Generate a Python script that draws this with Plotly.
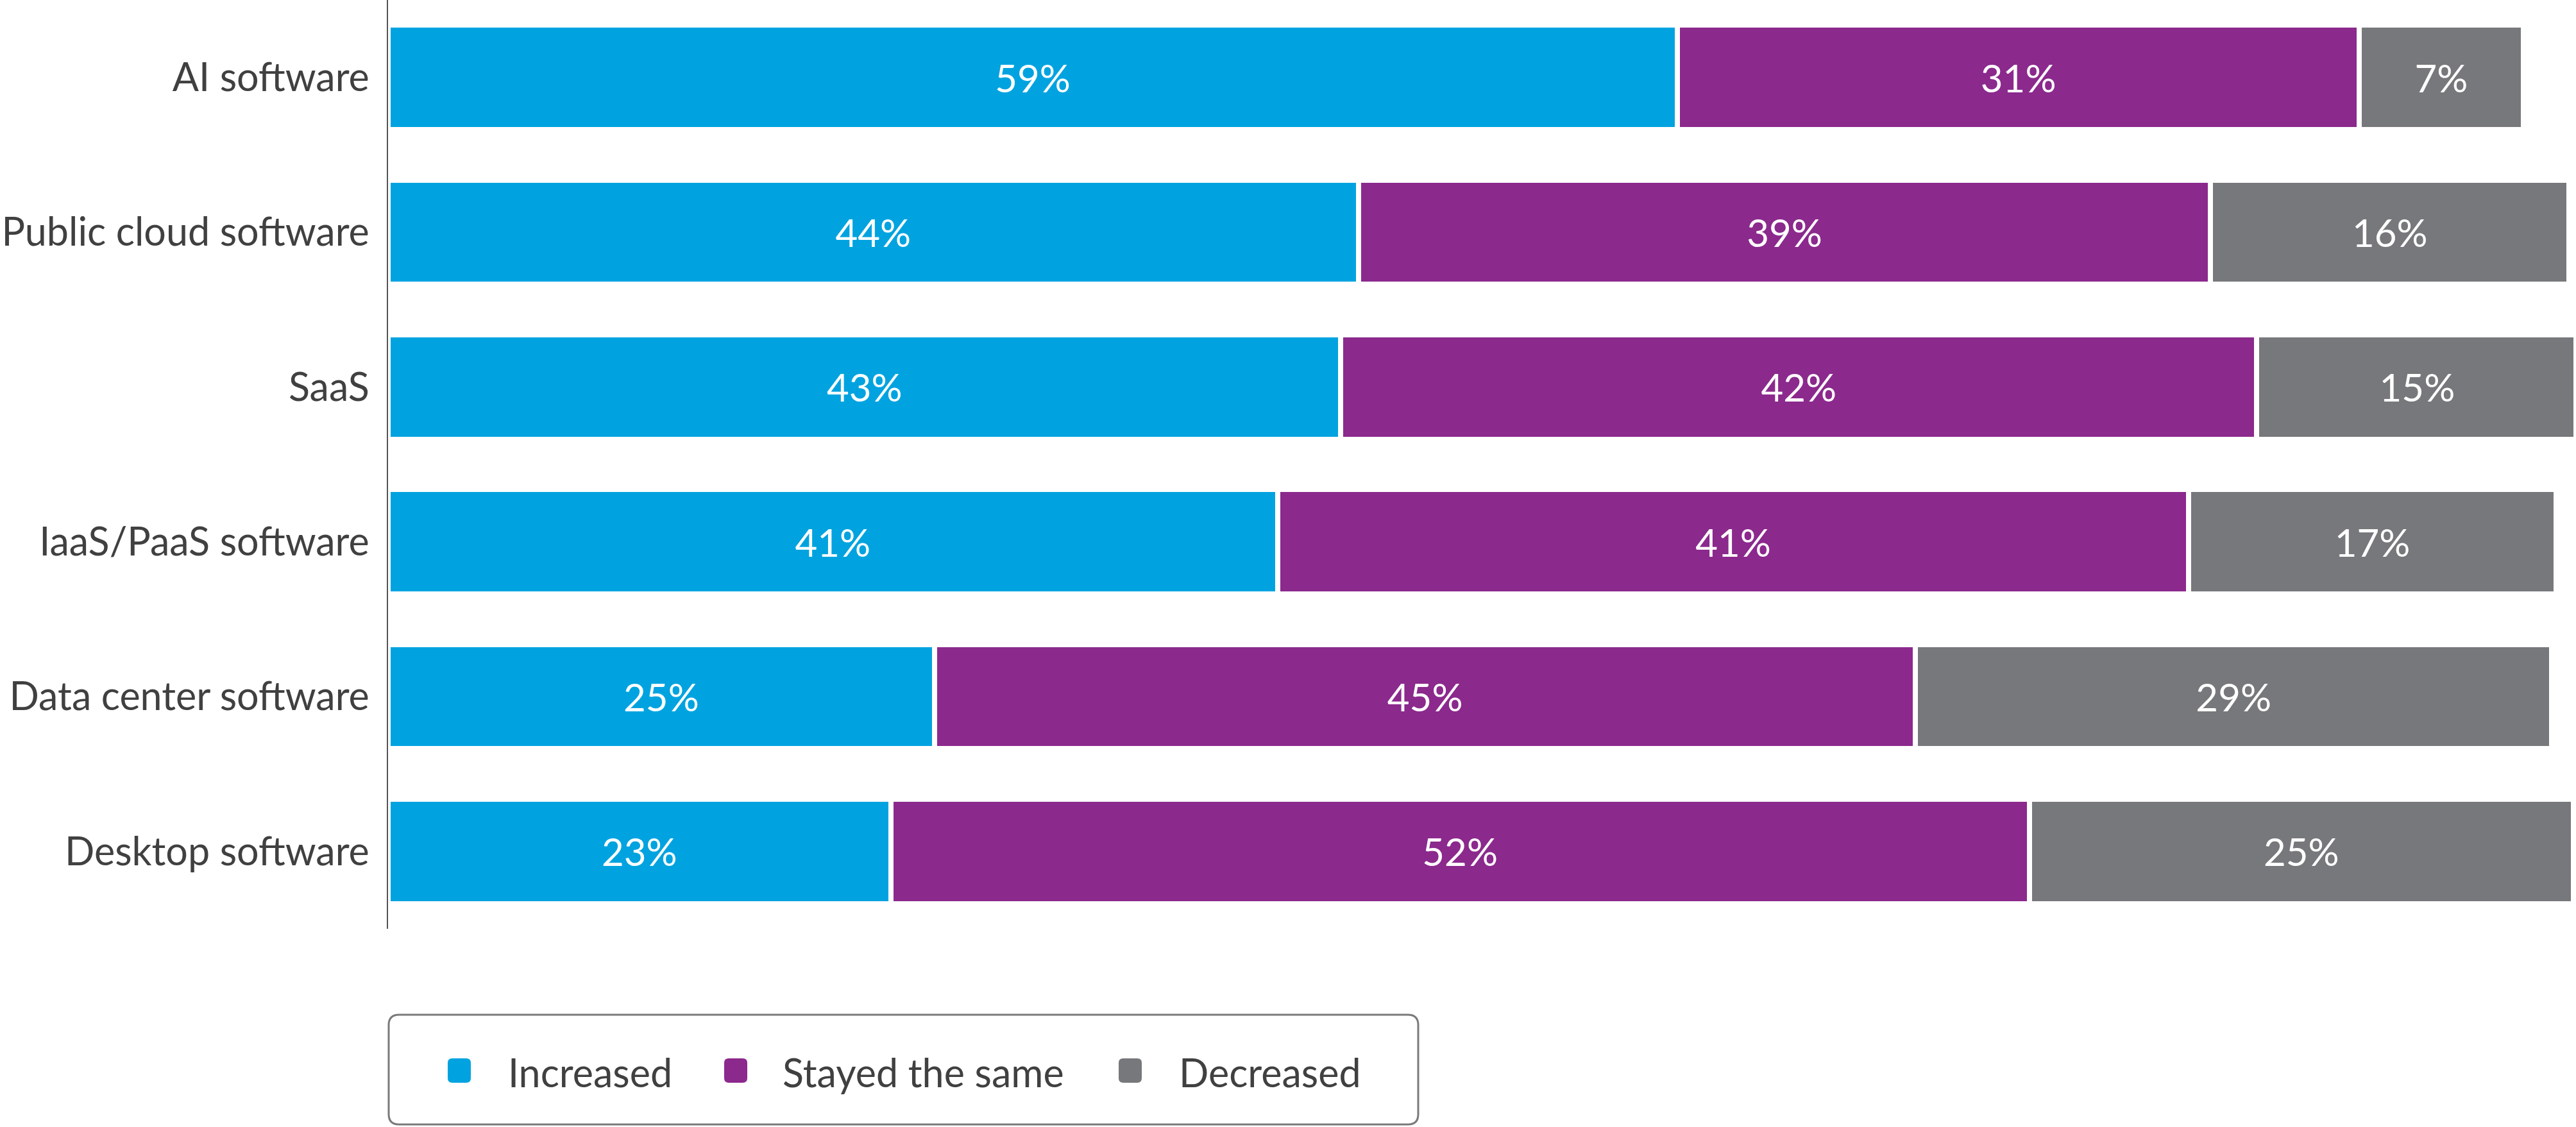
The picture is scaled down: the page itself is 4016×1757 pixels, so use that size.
import plotly.graph_objects as go

# ---------------- data ----------------
categories = ["AI software", "Public cloud software", "SaaS", "IaaS/PaaS software",
              "Data center software", "Desktop software"]
series_names = ["Increased", "Stayed the same", "Decreased"]
series_colors = ["#00A3E0", "#8B298D", "#77787B"]

increased = [59.0, 44.4, 43.6, 40.7, 25.0, 23.0]
stayed_same = [31.2, 39.0, 41.9, 41.7, 44.9, 52.1]
decreased = [7.5, 16.4, 14.7, 16.8, 29.1, 24.9]

increased_labels = ["59%", "44%", "43%", "41%", "25%", "23%"]
stayed_same_labels = ["31%", "39%", "42%", "41%", "45%", "52%"]
decreased_labels = ["7%", "16%", "15%", "17%", "29%", "25%"]

series_values = [increased, stayed_same, decreased]
series_labels = [increased_labels, stayed_same_labels, decreased_labels]

# ---------------- layout geometry (pixels) ----------------
W, H = 4016, 1757
L, R, T = 605, 4, 0
PH = 1448
B = H - T - PH
PW = W - L - R
FONT = "Lato"
TXT = "#404040"


def fx(x):
    return (x - L) / PW


def fy(y):
    return (T + PH - y) / PH


def rrect(x0, y0, x1, y1, r):
    # rounded rectangle (pixel coords, y downward) -> path in paper coords
    pts = [
        ("M", (x0 + r, y0)), ("L", (x1 - r, y0)), ("Q", (x1, y0), (x1, y0 + r)),
        ("L", (x1, y1 - r)), ("Q", (x1, y1), (x1 - r, y1)),
        ("L", (x0 + r, y1)), ("Q", (x0, y1), (x0, y1 - r)),
        ("L", (x0, y0 + r)), ("Q", (x0, y0), (x0 + r, y0)),
    ]
    out = []
    for p in pts:
        cmd = p[0]
        coords = " ".join(f"{fx(a):.6f},{fy(b):.6f}" for a, b in p[1:])
        out.append(f"{cmd}{coords}")
    return " ".join(out) + " Z"


fig = go.Figure()
for name, color, vals, labs in zip(series_names, series_colors, series_values, series_labels):
    fig.add_trace(go.Bar(
        y=categories, x=vals, name=name, orientation="h",
        marker=dict(color=color, line=dict(color="white", width=8)),
        text=labs, textposition="inside", insidetextanchor="middle",
        textangle=0, constraintext="none",
        textfont=dict(family=FONT, size=60, color="white"),
        showlegend=False, hoverinfo="skip",
    ))

shapes = []
annotations = []
# legend box
shapes.append(dict(type="path", xref="paper", yref="paper",
                   path=rrect(606, 1582, 2211, 1753, 16),
                   line=dict(color="#7A7A7A", width=3), fillcolor="rgba(0,0,0,0)"))
legend_marker_x = [698, 1129, 1744]
legend_text_x = [790, 1218, 1836]
for name, color, mx, tx in zip(series_names, series_colors, legend_marker_x, legend_text_x):
    shapes.append(dict(type="path", xref="paper", yref="paper",
                       path=rrect(mx, 1650, mx + 36, 1688, 7),
                       line=dict(width=0), fillcolor=color))
    annotations.append(dict(text=name, xref="paper", yref="paper",
                            x=fx(tx), y=fy(1671), xanchor="left", yanchor="middle",
                            showarrow=False, font=dict(family=FONT, size=61, color=TXT)))

fig.update_layout(
    width=W, height=H,
    barmode="stack", bargap=0.325,
    plot_bgcolor="white", paper_bgcolor="white",
    margin=dict(l=L, r=R, t=T, b=B, pad=0),
    font=dict(family=FONT, color=TXT),
    showlegend=False,
    shapes=shapes, annotations=annotations,
    xaxis=dict(range=[0, 100], showgrid=False, zeroline=False, showline=False,
               showticklabels=False, ticks=""),
    yaxis=dict(range=[5.5, -0.5], categoryorder="array", categoryarray=categories,
               showgrid=False, zeroline=False, showline=True, linecolor="#555555",
               linewidth=2, ticks="", ticklabelstandoff=15,
               tickfont=dict(family=FONT, size=61, color=TXT)),
)

fig.write_html("out.html")
